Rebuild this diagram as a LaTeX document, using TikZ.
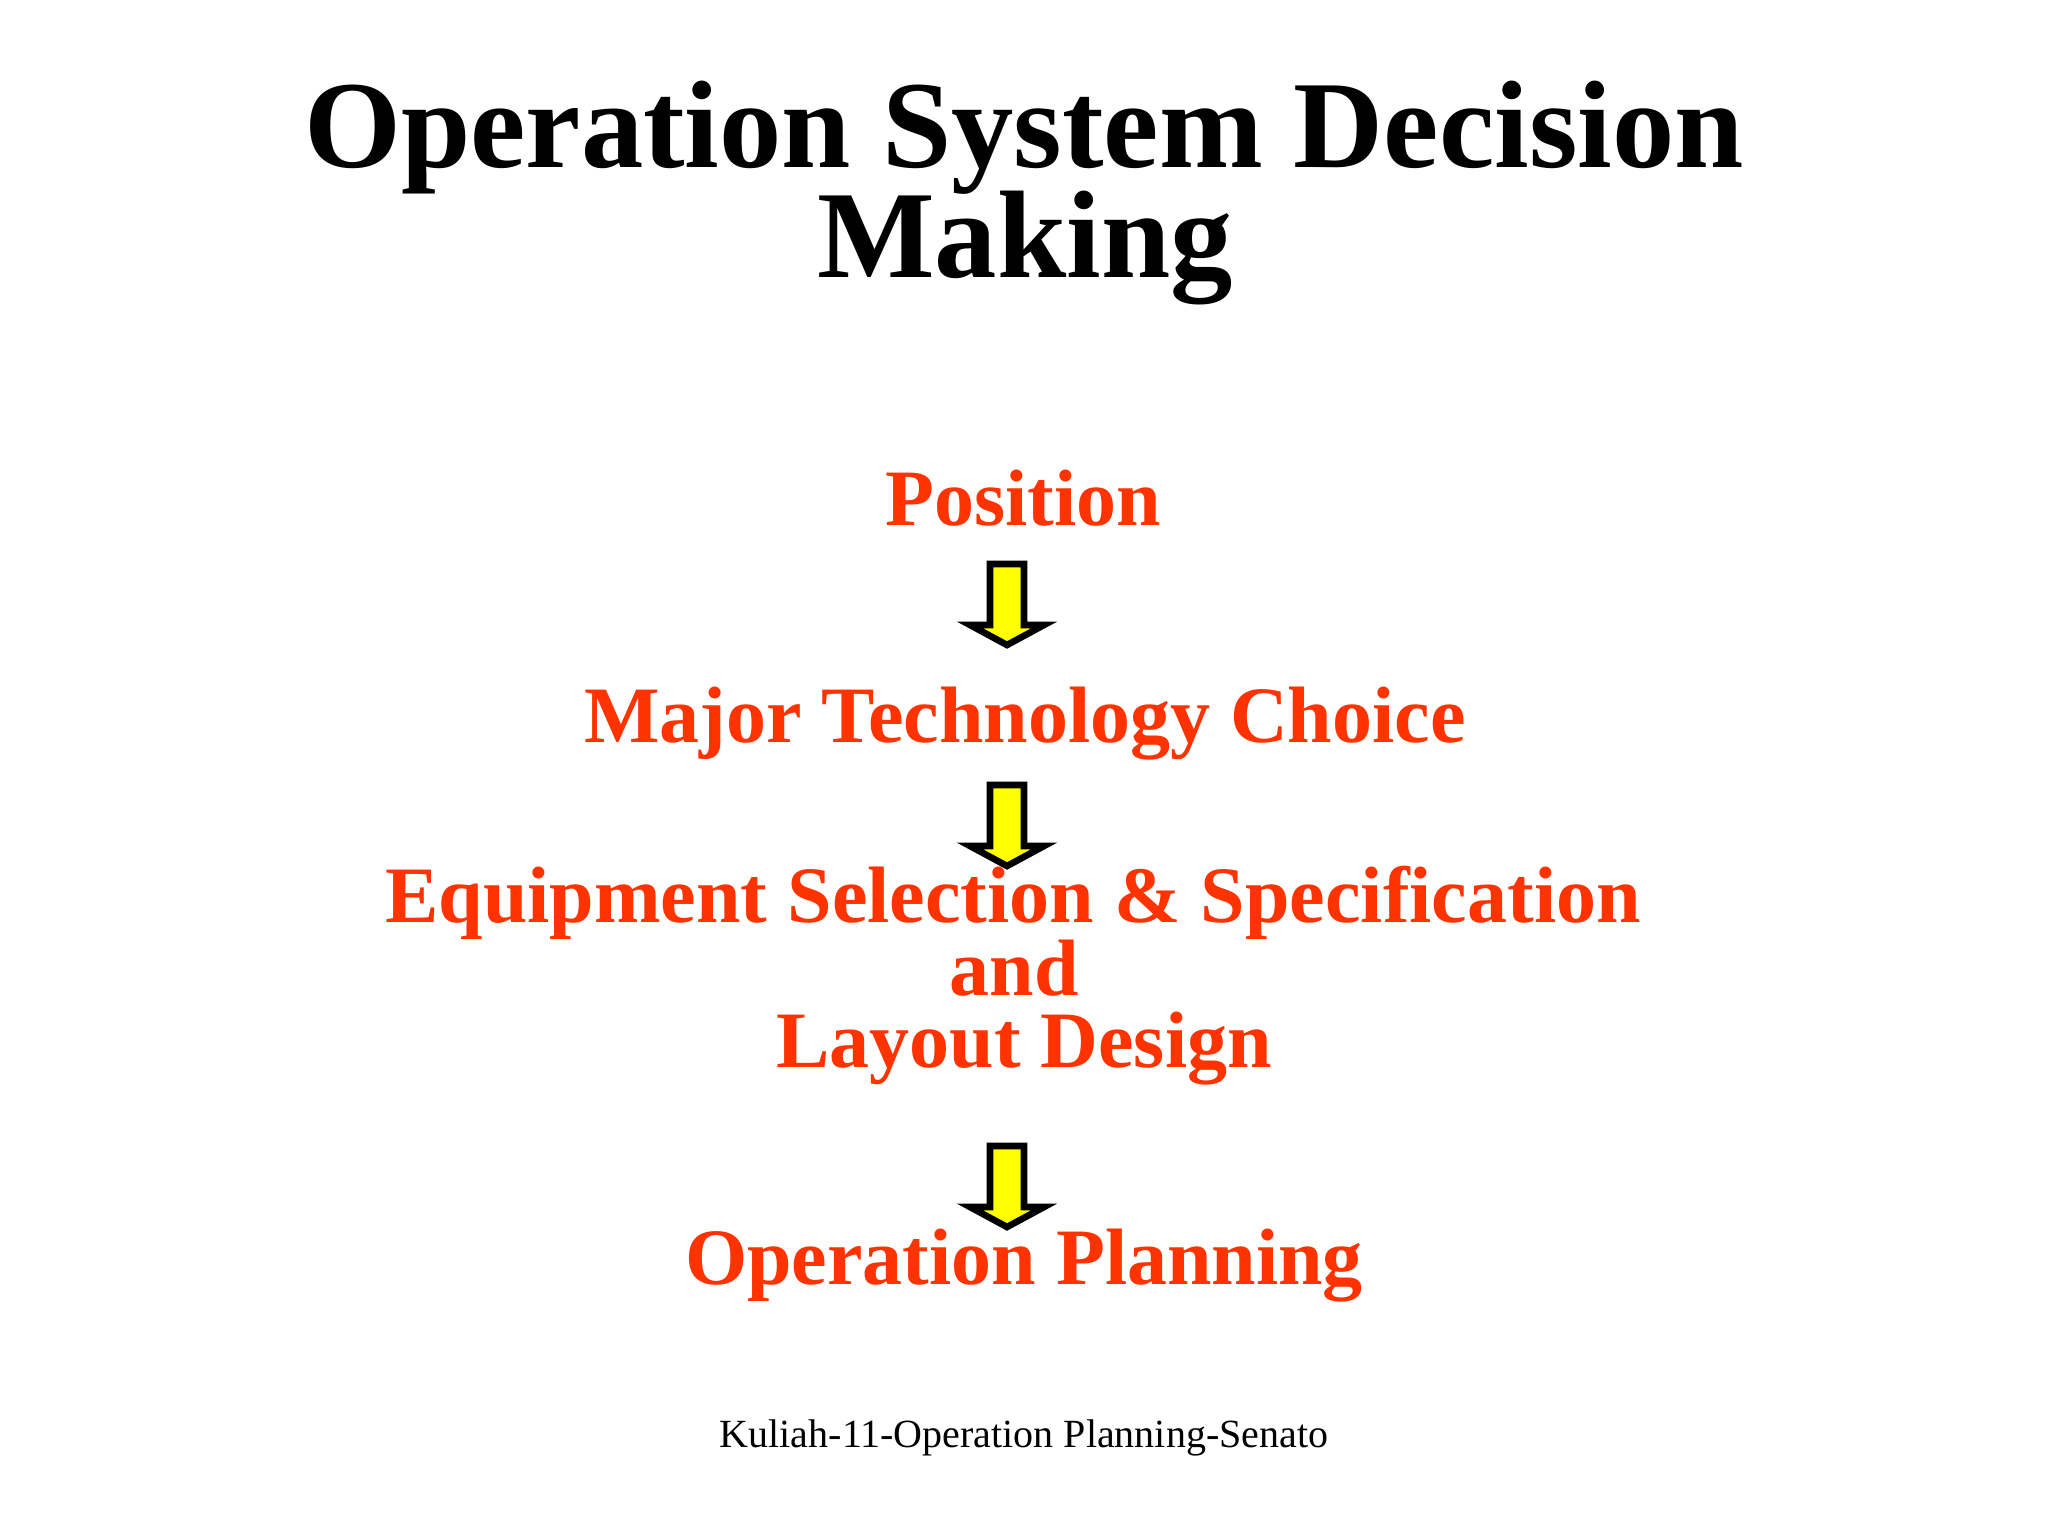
\documentclass[tikz,border=0pt]{standalone}
\usepackage{fontspec}
\setmainfont{Liberation Serif}
\definecolor{stepred}{RGB}{255,51,0}
\definecolor{arrowyellow}{RGB}{255,255,0}
\tikzset{
  titletext/.style={anchor=base,inner sep=0pt,font=\fontsize{62.3}{70}\selectfont\bfseries,text=black},
  steptext/.style={anchor=base,inner sep=0pt,font=\fontsize{40}{44}\selectfont\bfseries,text=stepred},
  footertext/.style={anchor=base,inner sep=0pt,font=\fontsize{20}{24}\selectfont,text=black},
  blockarrow/.style={draw=black,fill=arrowyellow,line width=3.3pt,line join=miter},
  downarrow/.pic={
    \path[blockarrow] (-17,0) -- (17,0) -- (17,61) -- (37,61) -- (0,81) -- (-37,61) -- (-17,61) -- cycle;
  }
}
\begin{document}
\begin{tikzpicture}[x=0.5pt,y=-0.5pt]
\useasboundingbox[fill=white] (0,0) rectangle (2048,1536);
\node[titletext] (title1) at (1024,167) {Operation System Decision};
\node[titletext] (title2) at (1025,277) {Making};
\node[steptext] (s1) at (1023,525) {Position};
\node[steptext] (s2) at (1025,742) {Major Technology Choice};
\node[steptext] (s3a) at (1013,922) {Equipment Selection \& Specification};
\node[steptext] (s3b) at (1014,995) {and};
\node[steptext] (s3c) at (1024,1067) {Layout Design};
\node[steptext] (s4) at (1024,1284) {Operation Planning};
\node[footertext] (footer) at (1024,1447) {Kuliah-11-Operation Planning-Senato};
\pic (a1) at (1007,564) {downarrow};
\pic (a2) at (1007,785) {downarrow};
\pic (a3) at (1007,1146) {downarrow};
\end{tikzpicture}
\end{document}
